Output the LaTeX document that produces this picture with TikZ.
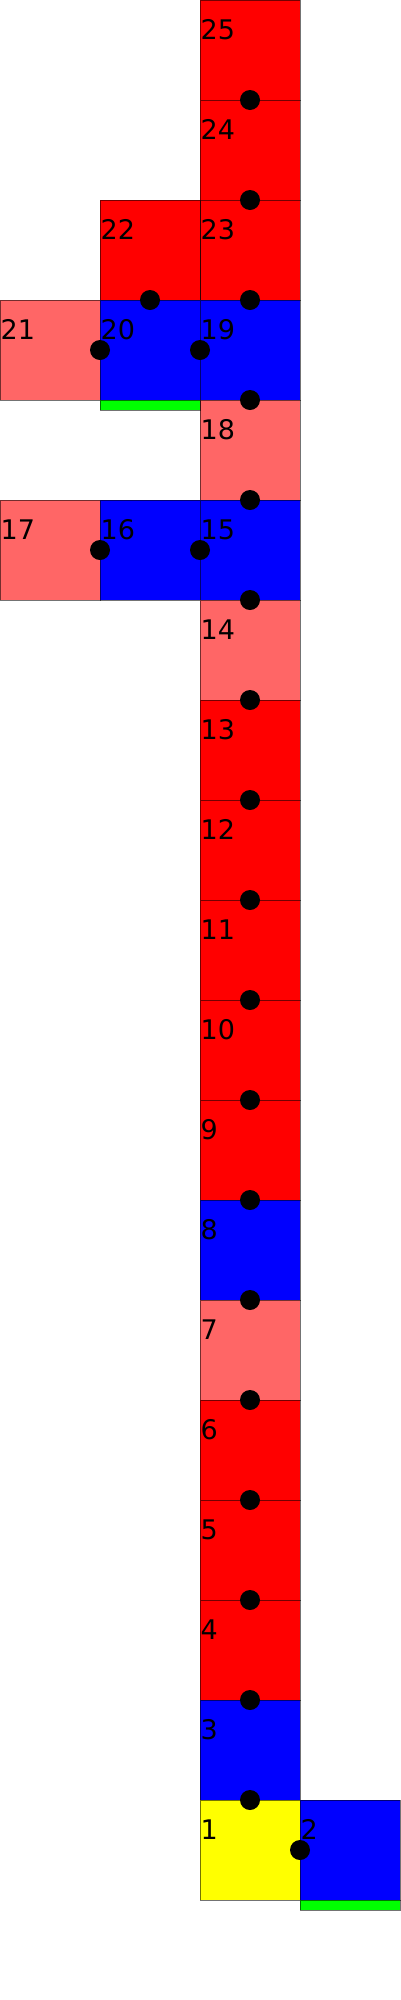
\documentclass[tikz,border=0pt]{standalone}
\usepackage{fontspec}
\setmainfont{DejaVu Sans}
\definecolor{lred}{RGB}{255,102,102}
\definecolor{cred}{RGB}{255,0,0}
\definecolor{cblue}{RGB}{0,0,255}
\definecolor{cyellow}{RGB}{255,255,0}
\definecolor{cgreen}{RGB}{0,255,0}
\begin{document}
\begin{tikzpicture}[x=1pt,y=-1pt,
  sq/.style={draw=black,draw opacity=0.55,line width=1pt,minimum width=100pt,minimum height=100pt,inner sep=0pt,outer sep=0pt,anchor=north west},
  strip/.style={sq,minimum height=10pt,fill=cgreen},
  lbl/.style={font=\fontsize{27}{27}\selectfont,anchor=base west,inner sep=0pt},
  dotn/.style={circle,fill=black,minimum size=20pt,inner sep=0pt}]
\useasboundingbox (0,0) rectangle (400,2000);
\foreach \n/\x/\y/\c in {25/200/0/cred,24/200/100/cred,23/200/200/cred,22/100/200/cred,
  21/0/300/lred,20/100/300/cblue,19/200/300/cblue,18/200/400/lred,
  17/0/500/lred,16/100/500/cblue,15/200/500/cblue,14/200/600/lred,
  13/200/700/cred,12/200/800/cred,11/200/900/cred,10/200/1000/cred,9/200/1100/cred,
  8/200/1200/cblue,7/200/1300/lred,6/200/1400/cred,5/200/1500/cred,4/200/1600/cred,
  3/200/1700/cblue,1/200/1800/cyellow,2/300/1800/cblue}{
  \node[sq,fill=\c] (s\n) at (\x,\y) {};
}
\node[strip] (g20) at (100,400) {};
\node[strip] (g2) at (300,1900) {};
\foreach \n/\x/\y in {25/200/0,24/200/100,23/200/200,22/100/200,
  21/0/300,20/100/300,19/200/300,18/200/400,
  17/0/500,16/100/500,15/200/500,14/200/600,
  13/200/700,12/200/800,11/200/900,10/200/1000,9/200/1100,
  8/200/1200,7/200/1300,6/200/1400,5/200/1500,4/200/1600,
  3/200/1700,1/200/1800,2/300/1800}{
  \node[lbl] (l\n) at (\x+0.5,\y+39.5) {\n};
}
\foreach \a in {s25.south,s24.south,s23.south,s22.south,s20.west,s20.east,s19.south,s18.south,
  s16.west,s16.east,s15.south,s14.south,s13.south,s12.south,s11.south,s10.south,s9.south,
  s8.south,s7.south,s6.south,s5.south,s4.south,s3.south,s1.east}{
  \node[dotn] at (\a) {};
}
\end{tikzpicture}
\end{document}
